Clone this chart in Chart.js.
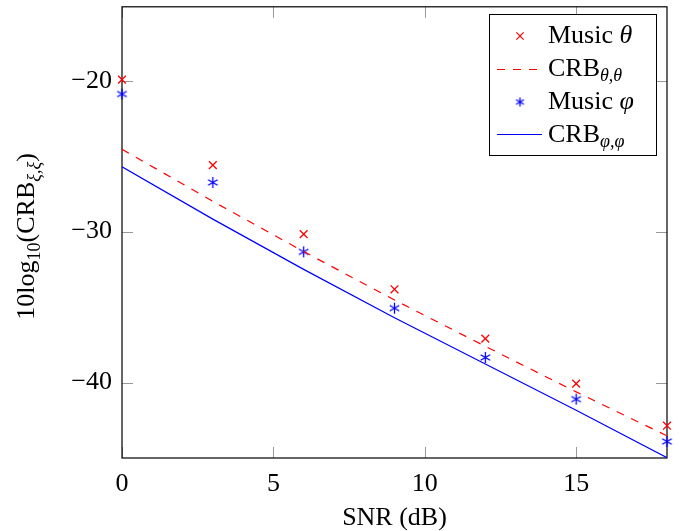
<!DOCTYPE html>
<html>
<head>
<meta charset="utf-8">
<script src="https://cdn.jsdelivr.net/npm/chart.js@4/dist/chart.umd.min.js"></script>
<style>
html,body{margin:0;padding:0;background:#fff;}
canvas{display:block;}
</style>
</head>
<body>
<canvas id="c" width="688" height="531"></canvas>
<script>
// ---- data ----
const snr = [0, 3, 6, 9, 12, 15, 18];
const musicTheta = [-19.93, -25.59, -30.16, -33.82, -37.09, -40.07, -42.86];
const crbTheta   = [-24.54, -27.99, -31.32, -34.53, -37.60, -40.62, -43.53];
const musicPhi   = [-20.88, -26.74, -31.34, -35.07, -38.34, -41.10, -43.91];
const crbPhi     = [-25.70, -29.17, -32.50, -35.70, -38.77, -41.84, -44.98];
const xTicks = [0, 5, 10, 15];
const yTicks = [-40, -30, -20];

const FONT = '"Liberation Serif", "Times New Roman", serif';
const RED = 'rgb(255,0,0)';
const BLUE = 'rgb(0,0,255)';

function asterisk(color, r) {
  const c = document.createElement('canvas');
  const s = Math.ceil(r * 2 + 4);
  c.width = s; c.height = s;
  const g = c.getContext('2d');
  g.strokeStyle = color; g.lineWidth = 1.3;
  const cx = s / 2, cy = s / 2;
  for (const a of [90, 30, 150]) {
    const rad = a * Math.PI / 180;
    g.beginPath();
    g.moveTo(cx - r * Math.cos(rad), cy - r * Math.sin(rad));
    g.lineTo(cx + r * Math.cos(rad), cy + r * Math.sin(rad));
    g.stroke();
  }
  return c;
}
const starImg = asterisk(BLUE, 5.5);

const pts = (ys) => snr.map((x, i) => ({x: x, y: ys[i]}));

function drawRich(ctx, parts, x, y, align) {
  let w = 0;
  for (const p of parts) {
    ctx.font = (p.italic ? 'italic ' : '') + p.size + 'px ' + FONT;
    p.w = ctx.measureText(p.t).width;
    w += p.w;
  }
  let cx = align === 'center' ? x - w / 2 : x;
  ctx.textAlign = 'left';
  ctx.textBaseline = 'alphabetic';
  for (const p of parts) {
    ctx.font = (p.italic ? 'italic ' : '') + p.size + 'px ' + FONT;
    ctx.fillText(p.t, cx, y + (p.dy || 0));
    cx += p.w;
  }
}

const framePlugin = {
  id: 'frame',
  beforeDatasetsDraw(chart) {
    const {ctx, chartArea: a, scales} = chart;
    ctx.save();
    ctx.strokeStyle = '#999';
    ctx.lineWidth = 1;
    const L = 11;
    for (const v of xTicks) {
      const px = Math.round(scales.x.getPixelForValue(v)) + 0.5;
      ctx.beginPath();
      ctx.moveTo(px, a.bottom); ctx.lineTo(px, a.bottom - L);
      ctx.moveTo(px, a.top); ctx.lineTo(px, a.top + L);
      ctx.stroke();
    }
    for (const v of yTicks) {
      const py = Math.round(scales.y.getPixelForValue(v)) + 0.5;
      ctx.beginPath();
      ctx.moveTo(a.left, py); ctx.lineTo(a.left + L, py);
      ctx.moveTo(a.right, py); ctx.lineTo(a.right - L, py);
      ctx.stroke();
    }
    ctx.strokeStyle = '#000';
    ctx.lineWidth = 1.2;
    ctx.strokeRect(a.left, a.top, a.right - a.left, a.bottom - a.top);
    ctx.restore();
  },
  afterDraw(chart) {
    const {ctx, chartArea: a} = chart;
    ctx.save();
    ctx.fillStyle = '#000';
    drawRich(ctx, [{t: 'SNR (dB)', size: 26}], (a.left + a.right) / 2, 525, 'center');
    ctx.translate(34, (a.top + a.bottom) / 2 + 4);
    ctx.rotate(-Math.PI / 2);
    drawRich(ctx, [
      {t: '10log', size: 26},
      {t: '10', size: 18, dy: 6},
      {t: '(CRB', size: 26},
      {t: 'ξ,ξ', size: 18, dy: 6, italic: true},
      {t: ')', size: 26}
    ], 0, 0, 'center');
    ctx.restore();

    // legend
    ctx.save();
    const bx = 489, by = 14, bw = 167, bh = 141;
    ctx.fillStyle = '#fff';
    ctx.fillRect(bx, by, bw, bh);
    ctx.strokeStyle = '#000';
    ctx.lineWidth = 1;
    ctx.strokeRect(bx + 0.5, by + 0.5, bw, bh);
    const ds = chart.data.datasets;
    const rows = [43, 76, 109, 142];
    const sampleX0 = 497, sampleX1 = 542, textX = 548;
    ctx.strokeStyle = RED; ctx.lineWidth = 1.2;
    ctx.beginPath();
    const r = 3.6;
    ctx.moveTo(520 - r, 36 - r); ctx.lineTo(520 + r, 36 + r);
    ctx.moveTo(520 - r, 36 + r); ctx.lineTo(520 + r, 36 - r);
    ctx.stroke();
    ctx.setLineDash(ds[1].borderDash);
    ctx.strokeStyle = ds[1].borderColor; ctx.lineWidth = ds[1].borderWidth;
    ctx.beginPath(); ctx.moveTo(sampleX0, 69.5); ctx.lineTo(sampleX1 - 4, 69.5); ctx.stroke();
    ctx.setLineDash([]);
    const smallStar = asterisk(BLUE, 4.5);
    ctx.drawImage(smallStar, 520 - smallStar.width / 2, 102 - smallStar.height / 2);
    ctx.strokeStyle = ds[3].borderColor; ctx.lineWidth = ds[3].borderWidth;
    ctx.beginPath(); ctx.moveTo(sampleX0, 134.5); ctx.lineTo(sampleX1, 134.5); ctx.stroke();

    ctx.fillStyle = '#000';
    drawRich(ctx, [{t: 'Music ', size: 26}, {t: 'θ', size: 26, italic: true}], textX, rows[0], 'left');
    drawRich(ctx, [{t: 'CRB', size: 26}, {t: 'θ,θ', size: 18, italic: true, dy: 5}], textX, rows[1], 'left');
    drawRich(ctx, [{t: 'Music ', size: 26}, {t: 'φ', size: 26, italic: true}], textX, rows[2], 'left');
    drawRich(ctx, [{t: 'CRB', size: 26}, {t: 'φ,φ', size: 18, italic: true, dy: 5}], textX, rows[3], 'left');
    ctx.restore();
  }
};

new Chart(document.getElementById('c'), {
  type: 'scatter',
  data: {
    datasets: [
      {label: 'Music θ', data: pts(musicTheta), pointStyle: 'crossRot', pointRadius: 5.5,
       borderColor: RED, backgroundColor: RED, borderWidth: 1.3, showLine: false, clip: false},
      {label: 'CRB θ,θ', data: pts(crbTheta), showLine: true, pointRadius: 0, borderColor: RED,
       borderWidth: 1.2, borderDash: [8, 8], tension: 0, fill: false},
      {label: 'Music φ', data: pts(musicPhi), pointStyle: starImg, pointRadius: 5.5,
       borderColor: BLUE, backgroundColor: BLUE, showLine: false, clip: false},
      {label: 'CRB φ,φ', data: pts(crbPhi), showLine: true, pointRadius: 0, borderColor: BLUE,
       borderWidth: 1.2, tension: 0, fill: false}
    ]
  },
  options: {
    responsive: false,
    animation: false,
    devicePixelRatio: 1,
    layout: {padding: {top: 4, right: 21, left: 0, bottom: 0}},
    plugins: {legend: {display: false}, tooltip: {enabled: false}},
    scales: {
      x: {
        type: 'linear', min: 0, max: 18,
        grid: {display: false, drawTicks: false},
        border: {display: false},
        ticks: {font: {family: FONT, size: 26}, color: '#000', padding: 11},
        afterBuildTicks: (s) => { s.ticks = xTicks.map(v => ({value: v})); },
        afterFit: (s) => { s.height = 73; s.paddingLeft = 0; s.paddingRight = 0; }
      },
      y: {
        type: 'linear', min: -45, max: -15.1,
        grid: {display: false, drawTicks: false},
        border: {display: false},
        ticks: {font: {family: FONT, size: 26}, color: '#000', padding: 10,
                callback: (v) => String(v).replace('-', '\u2212')},
        afterBuildTicks: (s) => { s.ticks = yTicks.map(v => ({value: v})); },
        afterFit: (s) => { s.width = 122; s.paddingTop = 0; s.paddingBottom = 0; }
      }
    }
  },
  plugins: [framePlugin]
});
</script>
</body>
</html>
